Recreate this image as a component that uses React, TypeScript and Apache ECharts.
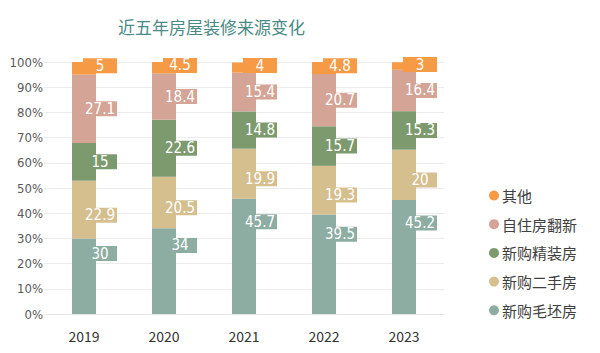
import React, { useEffect, useRef } from "react";
import * as echarts from "echarts";

const years = ["2019", "2020", "2021", "2022", "2023"];
const maopi = [30, 34, 45.7, 39.5, 45.2];
const ershou = [22.9, 20.5, 19.9, 19.3, 20];
const jingzhuang = [15, 22.6, 14.8, 15.7, 15.3];
const fanxin = [27.1, 18.4, 15.4, 20.7, 16.4];
const qita = [5, 4.5, 4, 4.8, 3];
const yTicks = [0, 10, 20, 30, 40, 50, 60, 70, 80, 90, 100];

const seriesDefs = [
  { name: "新购毛坯房", data: maopi, color: "#8DADA3", ly: "20%" },
  { name: "新购二手房", data: ershou, color: "#D5BF8F", ly: "60%" },
  { name: "新购精装房", data: jingzhuang, color: "#7D9A6E", ly: "50%" },
  { name: "自住房翻新", data: fanxin, color: "#D4A496", ly: "50%" },
  { name: "其他", data: qita, color: "#F79A46", ly: "30%" },
];

const NUM_FONT = "'Liberation Sans Narrow', 'DejaVu Sans Condensed', 'Noto Sans', sans-serif";
const CJK_FONT = "'Noto Sans CJK SC', 'Noto Sans', sans-serif";

export default function App() {
  const ref = useRef<HTMLDivElement>(null);
  useEffect(() => {
    if (!ref.current) return;
    const chart = echarts.init(ref.current, undefined, { renderer: "svg" });
    chart.setOption({
      animation: false,
      backgroundColor: "#ffffff",
      title: {
        text: "近五年房屋装修来源变化",
        left: 118,
        top: 18,
        padding: 0,
        textStyle: { fontFamily: CJK_FONT, fontSize: 17, fontWeight: "normal", color: "#4A8A84" },
      },
      legend: {
        orient: "vertical",
        left: 484,
        top: 183,
        itemGap: 13.7,
        itemWidth: 10,
        itemHeight: 10,
        icon: "circle",
        data: [...seriesDefs].reverse().map((s) => s.name),
        textStyle: { fontFamily: CJK_FONT, fontSize: 15, color: "#404040", padding: [0, 0, 0, -2] },
      },
      grid: { left: 44, right: 156, top: 62, bottom: 39, containLabel: false },
      xAxis: {
        type: "category",
        data: years,
        axisTick: { show: false },
        axisLine: { show: true, lineStyle: { color: "#E6E6E6" } },
        axisLabel: { fontFamily: CJK_FONT, fontSize: 14, color: "#333333", margin: 15 },
      },
      yAxis: {
        type: "value",
        min: yTicks[0],
        max: yTicks[yTicks.length - 1],
        interval: 10,
        axisLine: { show: false },
        axisTick: { show: false },
        splitLine: { lineStyle: { color: "#EBEBEB", width: 1 } },
        axisLabel: {
          formatter: "{value}%",
          fontFamily: NUM_FONT,
          fontSize: 13,
          color: "#595959",
          margin: 1,
        },
      },
      series: seriesDefs.map((s) => ({
        name: s.name,
        type: "bar",
        stack: "total",
        barWidth: 24,
        data: s.data,
        itemStyle: { color: s.color },
        label: {
          show: true,
          position: ["50%", s.ly],
          offset: [16, 0],
          align: "center",
          verticalAlign: "middle",
          width: 34,
          lineHeight: 15,
          backgroundColor: s.color,
          color: "#ffffff",
          fontFamily: NUM_FONT,
          fontSize: 15,
        },
      })),
    });
    return () => chart.dispose();
  }, []);
  return (
    <div
      ref={ref}
      style={{ position: "fixed", left: 0, top: 0, width: 600, height: 353 }}
    />
  );
}
